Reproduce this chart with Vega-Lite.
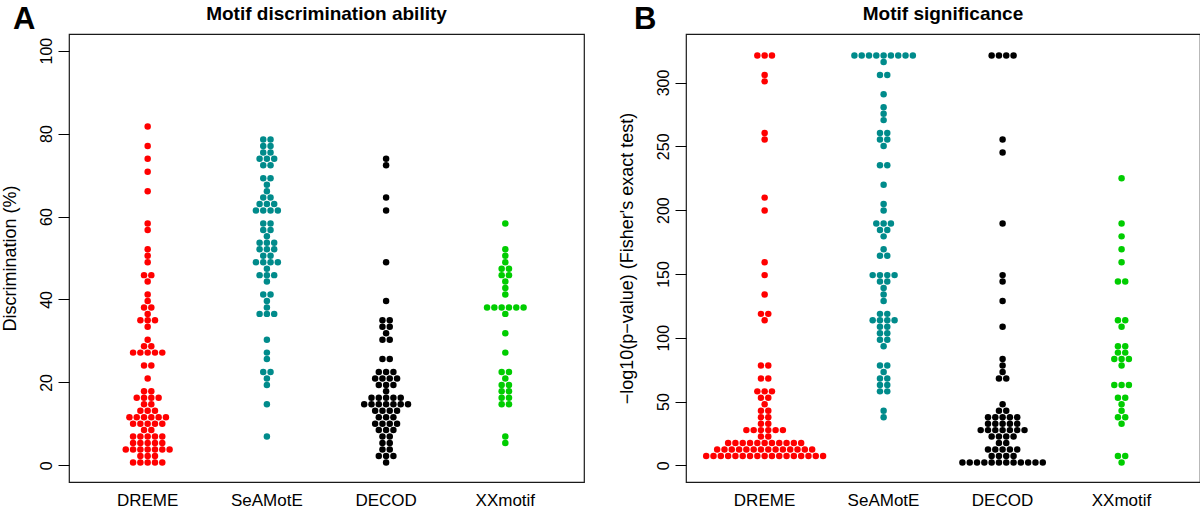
{
"$schema":"https://vega.github.io/schema/vega-lite/v6.json",
"background":"white",
"padding":{"left":0,"top":2,"right":0,"bottom":4},
"spacing":102,
"bounds":"flush",
"config":{"font":"Liberation Sans","view":{"stroke":"#1a1a1a","strokeWidth":1.2},"axis":{"labelColor":"#000","titleColor":"#000","tickColor":"#000","grid":false,"labelFont":"Liberation Sans","titleFont":"Liberation Sans"}},
"datasets":{
"discrimination":[
{"method":"DREME","value":0.72},{"method":"DREME","value":0.72},{"method":"DREME","value":0.72},{"method":"DREME","value":0.72},{"method":"DREME","value":0.72},
{"method":"DREME","value":2.28},{"method":"DREME","value":2.28},{"method":"DREME","value":2.28},
{"method":"DREME","value":3.83},{"method":"DREME","value":3.83},{"method":"DREME","value":3.83},{"method":"DREME","value":3.83},{"method":"DREME","value":3.83},{"method":"DREME","value":3.83},{"method":"DREME","value":3.83},
{"method":"DREME","value":5.39},{"method":"DREME","value":5.39},{"method":"DREME","value":5.39},{"method":"DREME","value":5.39},{"method":"DREME","value":5.39},
{"method":"DREME","value":6.95},{"method":"DREME","value":6.95},{"method":"DREME","value":6.95},{"method":"DREME","value":6.95},{"method":"DREME","value":6.95},
{"method":"DREME","value":8.51},{"method":"DREME","value":8.51},
{"method":"DREME","value":10.06},{"method":"DREME","value":10.06},{"method":"DREME","value":10.06},{"method":"DREME","value":10.06},{"method":"DREME","value":10.06},
{"method":"DREME","value":11.62},{"method":"DREME","value":11.62},{"method":"DREME","value":11.62},{"method":"DREME","value":11.62},{"method":"DREME","value":11.62},{"method":"DREME","value":11.62},
{"method":"DREME","value":13.18},{"method":"DREME","value":13.18},{"method":"DREME","value":13.18},
{"method":"DREME","value":14.73},{"method":"DREME","value":14.73},
{"method":"DREME","value":16.29},{"method":"DREME","value":16.29},{"method":"DREME","value":16.29},{"method":"DREME","value":16.29},
{"method":"DREME","value":17.85},{"method":"DREME","value":17.85},
{"method":"DREME","value":20.96},
{"method":"DREME","value":24.08},{"method":"DREME","value":24.08},
{"method":"DREME","value":27.19},{"method":"DREME","value":27.19},{"method":"DREME","value":27.19},{"method":"DREME","value":27.19},{"method":"DREME","value":27.19},
{"method":"DREME","value":28.75},{"method":"DREME","value":28.75},
{"method":"DREME","value":30.3},
{"method":"DREME","value":33.42},
{"method":"DREME","value":34.97},{"method":"DREME","value":34.97},{"method":"DREME","value":34.97},
{"method":"DREME","value":36.53},
{"method":"DREME","value":38.09},{"method":"DREME","value":38.09},
{"method":"DREME","value":39.65},
{"method":"DREME","value":41.2},
{"method":"DREME","value":44.32},
{"method":"DREME","value":45.87},{"method":"DREME","value":45.87},
{"method":"DREME","value":48.99},
{"method":"DREME","value":50.54},
{"method":"DREME","value":52.1},
{"method":"DREME","value":56.77},
{"method":"DREME","value":58.33},
{"method":"DREME","value":66.11},
{"method":"DREME","value":70.79},
{"method":"DREME","value":73.9},
{"method":"DREME","value":77.01},
{"method":"DREME","value":81.68},
{"method":"SeAMotE","value":6.95},
{"method":"SeAMotE","value":14.73},
{"method":"SeAMotE","value":19.4},
{"method":"SeAMotE","value":20.96},
{"method":"SeAMotE","value":22.52},{"method":"SeAMotE","value":22.52},
{"method":"SeAMotE","value":25.63},
{"method":"SeAMotE","value":27.19},
{"method":"SeAMotE","value":30.3},
{"method":"SeAMotE","value":36.53},{"method":"SeAMotE","value":36.53},{"method":"SeAMotE","value":36.53},
{"method":"SeAMotE","value":38.09},
{"method":"SeAMotE","value":39.65},
{"method":"SeAMotE","value":41.2},{"method":"SeAMotE","value":41.2},
{"method":"SeAMotE","value":44.32},
{"method":"SeAMotE","value":45.87},{"method":"SeAMotE","value":45.87},{"method":"SeAMotE","value":45.87},
{"method":"SeAMotE","value":47.43},
{"method":"SeAMotE","value":48.99},{"method":"SeAMotE","value":48.99},{"method":"SeAMotE","value":48.99},{"method":"SeAMotE","value":48.99},
{"method":"SeAMotE","value":50.54},{"method":"SeAMotE","value":50.54},
{"method":"SeAMotE","value":52.1},{"method":"SeAMotE","value":52.1},{"method":"SeAMotE","value":52.1},
{"method":"SeAMotE","value":53.66},{"method":"SeAMotE","value":53.66},{"method":"SeAMotE","value":53.66},
{"method":"SeAMotE","value":55.22},
{"method":"SeAMotE","value":56.77},{"method":"SeAMotE","value":56.77},
{"method":"SeAMotE","value":58.33},{"method":"SeAMotE","value":58.33},
{"method":"SeAMotE","value":61.44},{"method":"SeAMotE","value":61.44},{"method":"SeAMotE","value":61.44},{"method":"SeAMotE","value":61.44},
{"method":"SeAMotE","value":63.0},{"method":"SeAMotE","value":63.0},{"method":"SeAMotE","value":63.0},
{"method":"SeAMotE","value":64.56},{"method":"SeAMotE","value":64.56},
{"method":"SeAMotE","value":66.11},
{"method":"SeAMotE","value":67.67},
{"method":"SeAMotE","value":69.23},{"method":"SeAMotE","value":69.23},
{"method":"SeAMotE","value":72.34},{"method":"SeAMotE","value":72.34},
{"method":"SeAMotE","value":73.9},{"method":"SeAMotE","value":73.9},{"method":"SeAMotE","value":73.9},
{"method":"SeAMotE","value":75.46},{"method":"SeAMotE","value":75.46},
{"method":"SeAMotE","value":77.01},{"method":"SeAMotE","value":77.01},
{"method":"SeAMotE","value":78.57},{"method":"SeAMotE","value":78.57},
{"method":"DECOD","value":0.72},
{"method":"DECOD","value":2.28},{"method":"DECOD","value":2.28},{"method":"DECOD","value":2.28},
{"method":"DECOD","value":3.83},{"method":"DECOD","value":3.83},
{"method":"DECOD","value":5.39},{"method":"DECOD","value":5.39},
{"method":"DECOD","value":6.95},{"method":"DECOD","value":6.95},
{"method":"DECOD","value":8.51},{"method":"DECOD","value":8.51},{"method":"DECOD","value":8.51},
{"method":"DECOD","value":10.06},{"method":"DECOD","value":10.06},{"method":"DECOD","value":10.06},{"method":"DECOD","value":10.06},
{"method":"DECOD","value":11.62},{"method":"DECOD","value":11.62},{"method":"DECOD","value":11.62},
{"method":"DECOD","value":13.18},{"method":"DECOD","value":13.18},{"method":"DECOD","value":13.18},{"method":"DECOD","value":13.18},
{"method":"DECOD","value":14.73},{"method":"DECOD","value":14.73},{"method":"DECOD","value":14.73},{"method":"DECOD","value":14.73},{"method":"DECOD","value":14.73},{"method":"DECOD","value":14.73},{"method":"DECOD","value":14.73},
{"method":"DECOD","value":16.29},{"method":"DECOD","value":16.29},{"method":"DECOD","value":16.29},{"method":"DECOD","value":16.29},{"method":"DECOD","value":16.29},
{"method":"DECOD","value":17.85},
{"method":"DECOD","value":19.4},{"method":"DECOD","value":19.4},{"method":"DECOD","value":19.4},
{"method":"DECOD","value":20.96},{"method":"DECOD","value":20.96},{"method":"DECOD","value":20.96},{"method":"DECOD","value":20.96},
{"method":"DECOD","value":22.52},{"method":"DECOD","value":22.52},{"method":"DECOD","value":22.52},
{"method":"DECOD","value":25.63},{"method":"DECOD","value":25.63},
{"method":"DECOD","value":30.3},{"method":"DECOD","value":30.3},
{"method":"DECOD","value":31.86},
{"method":"DECOD","value":33.42},{"method":"DECOD","value":33.42},
{"method":"DECOD","value":34.97},{"method":"DECOD","value":34.97},
{"method":"DECOD","value":39.65},
{"method":"DECOD","value":48.99},
{"method":"DECOD","value":61.44},
{"method":"DECOD","value":64.56},
{"method":"DECOD","value":72.34},
{"method":"DECOD","value":73.9},
{"method":"XXmotif","value":5.39},
{"method":"XXmotif","value":6.95},
{"method":"XXmotif","value":14.73},{"method":"XXmotif","value":14.73},
{"method":"XXmotif","value":16.29},{"method":"XXmotif","value":16.29},
{"method":"XXmotif","value":17.85},{"method":"XXmotif","value":17.85},
{"method":"XXmotif","value":19.4},{"method":"XXmotif","value":19.4},
{"method":"XXmotif","value":20.96},
{"method":"XXmotif","value":22.52},{"method":"XXmotif","value":22.52},
{"method":"XXmotif","value":27.19},
{"method":"XXmotif","value":31.86},
{"method":"XXmotif","value":36.53},
{"method":"XXmotif","value":38.09},{"method":"XXmotif","value":38.09},{"method":"XXmotif","value":38.09},{"method":"XXmotif","value":38.09},{"method":"XXmotif","value":38.09},{"method":"XXmotif","value":38.09},
{"method":"XXmotif","value":41.2},
{"method":"XXmotif","value":42.76},
{"method":"XXmotif","value":44.32},
{"method":"XXmotif","value":45.87},{"method":"XXmotif","value":45.87},
{"method":"XXmotif","value":47.43},{"method":"XXmotif","value":47.43},
{"method":"XXmotif","value":48.99},
{"method":"XXmotif","value":50.54},
{"method":"XXmotif","value":52.1},
{"method":"XXmotif","value":58.33}
],
"significance":[
{"method":"DREME","value":7.41},{"method":"DREME","value":7.41},{"method":"DREME","value":7.41},{"method":"DREME","value":7.41},{"method":"DREME","value":7.41},{"method":"DREME","value":7.41},{"method":"DREME","value":7.41},{"method":"DREME","value":7.41},{"method":"DREME","value":7.41},{"method":"DREME","value":7.41},{"method":"DREME","value":7.41},{"method":"DREME","value":7.41},{"method":"DREME","value":7.41},{"method":"DREME","value":7.41},{"method":"DREME","value":7.41},{"method":"DREME","value":7.41},{"method":"DREME","value":7.41},
{"method":"DREME","value":12.47},{"method":"DREME","value":12.47},{"method":"DREME","value":12.47},{"method":"DREME","value":12.47},{"method":"DREME","value":12.47},{"method":"DREME","value":12.47},{"method":"DREME","value":12.47},{"method":"DREME","value":12.47},{"method":"DREME","value":12.47},{"method":"DREME","value":12.47},{"method":"DREME","value":12.47},{"method":"DREME","value":12.47},{"method":"DREME","value":12.47},{"method":"DREME","value":12.47},
{"method":"DREME","value":17.53},{"method":"DREME","value":17.53},{"method":"DREME","value":17.53},{"method":"DREME","value":17.53},{"method":"DREME","value":17.53},{"method":"DREME","value":17.53},{"method":"DREME","value":17.53},{"method":"DREME","value":17.53},{"method":"DREME","value":17.53},{"method":"DREME","value":17.53},{"method":"DREME","value":17.53},
{"method":"DREME","value":22.59},{"method":"DREME","value":22.59},
{"method":"DREME","value":27.65},{"method":"DREME","value":27.65},{"method":"DREME","value":27.65},{"method":"DREME","value":27.65},{"method":"DREME","value":27.65},{"method":"DREME","value":27.65},
{"method":"DREME","value":32.71},{"method":"DREME","value":32.71},
{"method":"DREME","value":37.77},{"method":"DREME","value":37.77},
{"method":"DREME","value":42.83},{"method":"DREME","value":42.83},
{"method":"DREME","value":47.89},
{"method":"DREME","value":52.95},{"method":"DREME","value":52.95},
{"method":"DREME","value":58.01},{"method":"DREME","value":58.01},{"method":"DREME","value":58.01},
{"method":"DREME","value":68.13},{"method":"DREME","value":68.13},
{"method":"DREME","value":78.25},{"method":"DREME","value":78.25},
{"method":"DREME","value":113.67},
{"method":"DREME","value":118.73},{"method":"DREME","value":118.73},
{"method":"DREME","value":133.91},
{"method":"DREME","value":149.09},
{"method":"DREME","value":159.21},
{"method":"DREME","value":199.69},
{"method":"DREME","value":209.81},
{"method":"DREME","value":255.35},
{"method":"DREME","value":260.41},
{"method":"DREME","value":300.89},
{"method":"DREME","value":305.95},
{"method":"DREME","value":321.13},{"method":"DREME","value":321.13},{"method":"DREME","value":321.13},
{"method":"SeAMotE","value":37.77},
{"method":"SeAMotE","value":42.83},
{"method":"SeAMotE","value":58.01},{"method":"SeAMotE","value":58.01},
{"method":"SeAMotE","value":63.07},{"method":"SeAMotE","value":63.07},
{"method":"SeAMotE","value":68.13},{"method":"SeAMotE","value":68.13},
{"method":"SeAMotE","value":73.19},
{"method":"SeAMotE","value":78.25},{"method":"SeAMotE","value":78.25},
{"method":"SeAMotE","value":93.43},
{"method":"SeAMotE","value":98.49},{"method":"SeAMotE","value":98.49},
{"method":"SeAMotE","value":103.55},{"method":"SeAMotE","value":103.55},
{"method":"SeAMotE","value":108.61},{"method":"SeAMotE","value":108.61},
{"method":"SeAMotE","value":113.67},{"method":"SeAMotE","value":113.67},{"method":"SeAMotE","value":113.67},{"method":"SeAMotE","value":113.67},
{"method":"SeAMotE","value":118.73},{"method":"SeAMotE","value":118.73},
{"method":"SeAMotE","value":128.85},
{"method":"SeAMotE","value":133.91},
{"method":"SeAMotE","value":138.97},
{"method":"SeAMotE","value":144.03},{"method":"SeAMotE","value":144.03},
{"method":"SeAMotE","value":149.09},{"method":"SeAMotE","value":149.09},{"method":"SeAMotE","value":149.09},{"method":"SeAMotE","value":149.09},
{"method":"SeAMotE","value":164.27},{"method":"SeAMotE","value":164.27},
{"method":"SeAMotE","value":169.33},
{"method":"SeAMotE","value":179.45},
{"method":"SeAMotE","value":184.51},{"method":"SeAMotE","value":184.51},
{"method":"SeAMotE","value":189.57},{"method":"SeAMotE","value":189.57},{"method":"SeAMotE","value":189.57},
{"method":"SeAMotE","value":199.69},
{"method":"SeAMotE","value":204.75},
{"method":"SeAMotE","value":219.93},
{"method":"SeAMotE","value":235.11},{"method":"SeAMotE","value":235.11},
{"method":"SeAMotE","value":250.29},
{"method":"SeAMotE","value":255.35},{"method":"SeAMotE","value":255.35},
{"method":"SeAMotE","value":260.41},{"method":"SeAMotE","value":260.41},
{"method":"SeAMotE","value":270.53},
{"method":"SeAMotE","value":275.59},
{"method":"SeAMotE","value":280.65},
{"method":"SeAMotE","value":290.77},
{"method":"SeAMotE","value":305.95},{"method":"SeAMotE","value":305.95},
{"method":"SeAMotE","value":316.07},
{"method":"SeAMotE","value":321.13},{"method":"SeAMotE","value":321.13},{"method":"SeAMotE","value":321.13},{"method":"SeAMotE","value":321.13},{"method":"SeAMotE","value":321.13},{"method":"SeAMotE","value":321.13},{"method":"SeAMotE","value":321.13},{"method":"SeAMotE","value":321.13},{"method":"SeAMotE","value":321.13},
{"method":"DECOD","value":2.35},{"method":"DECOD","value":2.35},{"method":"DECOD","value":2.35},{"method":"DECOD","value":2.35},{"method":"DECOD","value":2.35},{"method":"DECOD","value":2.35},{"method":"DECOD","value":2.35},{"method":"DECOD","value":2.35},{"method":"DECOD","value":2.35},{"method":"DECOD","value":2.35},{"method":"DECOD","value":2.35},{"method":"DECOD","value":2.35},
{"method":"DECOD","value":7.41},{"method":"DECOD","value":7.41},{"method":"DECOD","value":7.41},{"method":"DECOD","value":7.41},
{"method":"DECOD","value":12.47},{"method":"DECOD","value":12.47},{"method":"DECOD","value":12.47},{"method":"DECOD","value":12.47},{"method":"DECOD","value":12.47},
{"method":"DECOD","value":17.53},{"method":"DECOD","value":17.53},
{"method":"DECOD","value":22.59},{"method":"DECOD","value":22.59},{"method":"DECOD","value":22.59},{"method":"DECOD","value":22.59},
{"method":"DECOD","value":27.65},{"method":"DECOD","value":27.65},{"method":"DECOD","value":27.65},{"method":"DECOD","value":27.65},{"method":"DECOD","value":27.65},{"method":"DECOD","value":27.65},{"method":"DECOD","value":27.65},
{"method":"DECOD","value":32.71},{"method":"DECOD","value":32.71},{"method":"DECOD","value":32.71},{"method":"DECOD","value":32.71},{"method":"DECOD","value":32.71},
{"method":"DECOD","value":37.77},{"method":"DECOD","value":37.77},{"method":"DECOD","value":37.77},{"method":"DECOD","value":37.77},{"method":"DECOD","value":37.77},
{"method":"DECOD","value":42.83},{"method":"DECOD","value":42.83},
{"method":"DECOD","value":47.89},
{"method":"DECOD","value":68.13},{"method":"DECOD","value":68.13},
{"method":"DECOD","value":73.19},
{"method":"DECOD","value":78.25},
{"method":"DECOD","value":83.31},
{"method":"DECOD","value":108.61},
{"method":"DECOD","value":128.85},
{"method":"DECOD","value":144.03},
{"method":"DECOD","value":149.09},
{"method":"DECOD","value":189.57},
{"method":"DECOD","value":245.23},
{"method":"DECOD","value":255.35},
{"method":"DECOD","value":321.13},{"method":"DECOD","value":321.13},{"method":"DECOD","value":321.13},{"method":"DECOD","value":321.13},
{"method":"XXmotif","value":2.35},
{"method":"XXmotif","value":7.41},{"method":"XXmotif","value":7.41},
{"method":"XXmotif","value":32.71},
{"method":"XXmotif","value":37.77},{"method":"XXmotif","value":37.77},
{"method":"XXmotif","value":42.83},
{"method":"XXmotif","value":47.89},
{"method":"XXmotif","value":52.95},{"method":"XXmotif","value":52.95},
{"method":"XXmotif","value":63.07},{"method":"XXmotif","value":63.07},{"method":"XXmotif","value":63.07},
{"method":"XXmotif","value":78.25},
{"method":"XXmotif","value":83.31},{"method":"XXmotif","value":83.31},{"method":"XXmotif","value":83.31},
{"method":"XXmotif","value":88.37},{"method":"XXmotif","value":88.37},
{"method":"XXmotif","value":93.43},{"method":"XXmotif","value":93.43},
{"method":"XXmotif","value":108.61},
{"method":"XXmotif","value":113.67},{"method":"XXmotif","value":113.67},
{"method":"XXmotif","value":144.03},{"method":"XXmotif","value":144.03},
{"method":"XXmotif","value":159.21},
{"method":"XXmotif","value":169.33},
{"method":"XXmotif","value":179.45},
{"method":"XXmotif","value":189.57},
{"method":"XXmotif","value":224.99}
]
},
"hconcat":[
{
"width":515,"height":448,
"data":{"name":"discrimination"},
"transform":[
{"window":[{"op":"row_number","as":"rank"},{"op":"count","as":"n"}],"groupby":["method","value"],"frame":[null,null]},
{"calculate":"datum.rank - (datum.n + 1) / 2","as":"offset"}
],
"title":{"text":"Motif discrimination ability","fontSize":19,"fontWeight":"bold","anchor":"middle","frame":"group","baseline":"alphabetic","offset":-21,"dy":14,"color":"#000"},
"layer":[
{"mark":{"type":"circle","size":42,"opacity":1},
"encoding":{
"x":{"field":"method","type":"nominal","sort":["DREME","SeAMotE","DECOD","XXmotif"],"scale":{"paddingInner":0,"paddingOuter":0.16},"axis":{"orient":"bottom","title":null,"ticks":false,"tickSize":0,"domain":false,"labelAngle":0,"labelFontSize":17,"labelPadding":23,"labelBaseline":"alphabetic"}},
"xOffset":{"field":"offset","type":"quantitative","scale":{"domain":[-8.16,8.16]}},
"y":{"field":"value","type":"quantitative","scale":{"domain":[-4,104],"nice":false,"zero":false},"axis":{"values":[0,20,40,60,80,100],"title":"Discrimination (%)","domain":false,"tickSize":11,"labelAngle":-90,"labelAlign":"center","labelBaseline":"alphabetic","labelPadding":7,"labelFontSize":16,"labelOverlap":false,"titleFontSize":18,"titleFontWeight":"normal","titleX":-54,"titleBaseline":"alphabetic"}},
"color":{"field":"method","type":"nominal","scale":{"domain":["DREME","SeAMotE","DECOD","XXmotif"],"range":["#FF0000","#008B8B","#000000","#00CD00"]},"legend":null}
}},
{"mark":{"type":"rule","strokeOpacity":0},
"encoding":{"x":{"field":"method","type":"nominal","sort":["DREME","SeAMotE","DECOD","XXmotif"],"axis":{"orient":"top","title":"A","labels":false,"ticks":false,"domain":false,"titleFontSize":31,"titleFontWeight":"bold","titleAngle":0,"titleAlign":"left","titleBaseline":"alphabetic","titleX":-56.5,"titleY":-5.5}}}}
]
},
{
"width":514,"height":448,
"data":{"name":"significance"},
"transform":[
{"window":[{"op":"row_number","as":"rank"},{"op":"count","as":"n"}],"groupby":["method","value"],"frame":[null,null]},
{"calculate":"datum.rank - (datum.n + 1) / 2","as":"offset"}
],
"title":{"text":"Motif significance","fontSize":19,"fontWeight":"bold","anchor":"middle","frame":"group","baseline":"alphabetic","offset":-21,"dy":14,"color":"#000"},
"layer":[
{"mark":{"type":"circle","size":42,"opacity":1},
"encoding":{
"x":{"field":"method","type":"nominal","sort":["DREME","SeAMotE","DECOD","XXmotif"],"scale":{"paddingInner":0,"paddingOuter":0.16},"axis":{"orient":"bottom","title":null,"ticks":false,"tickSize":0,"domain":false,"labelAngle":0,"labelFontSize":17,"labelPadding":23,"labelBaseline":"alphabetic"}},
"xOffset":{"field":"offset","type":"quantitative","scale":{"domain":[-8.16,8.16]}},
"y":{"field":"value","type":"quantitative","scale":{"domain":[-13,338],"nice":false,"zero":false},"axis":{"values":[0,50,100,150,200,250,300],"title":"−log10(p−value) (Fisher's exact test)","domain":false,"tickSize":11,"labelAngle":-90,"labelAlign":"center","labelBaseline":"alphabetic","labelPadding":7,"labelFontSize":16,"labelOverlap":false,"titleFontSize":18,"titleFontWeight":"normal","titleX":-54,"titleBaseline":"alphabetic"}},
"color":{"field":"method","type":"nominal","scale":{"domain":["DREME","SeAMotE","DECOD","XXmotif"],"range":["#FF0000","#008B8B","#000000","#00CD00"]},"legend":null}
}},
{"mark":{"type":"rule","strokeOpacity":0},
"encoding":{"x":{"field":"method","type":"nominal","sort":["DREME","SeAMotE","DECOD","XXmotif"],"axis":{"orient":"top","title":"B","labels":false,"ticks":false,"domain":false,"titleFontSize":31,"titleFontWeight":"bold","titleAngle":0,"titleAlign":"left","titleBaseline":"alphabetic","titleX":-52.5,"titleY":-5.5}}}}
]
}
]
}
